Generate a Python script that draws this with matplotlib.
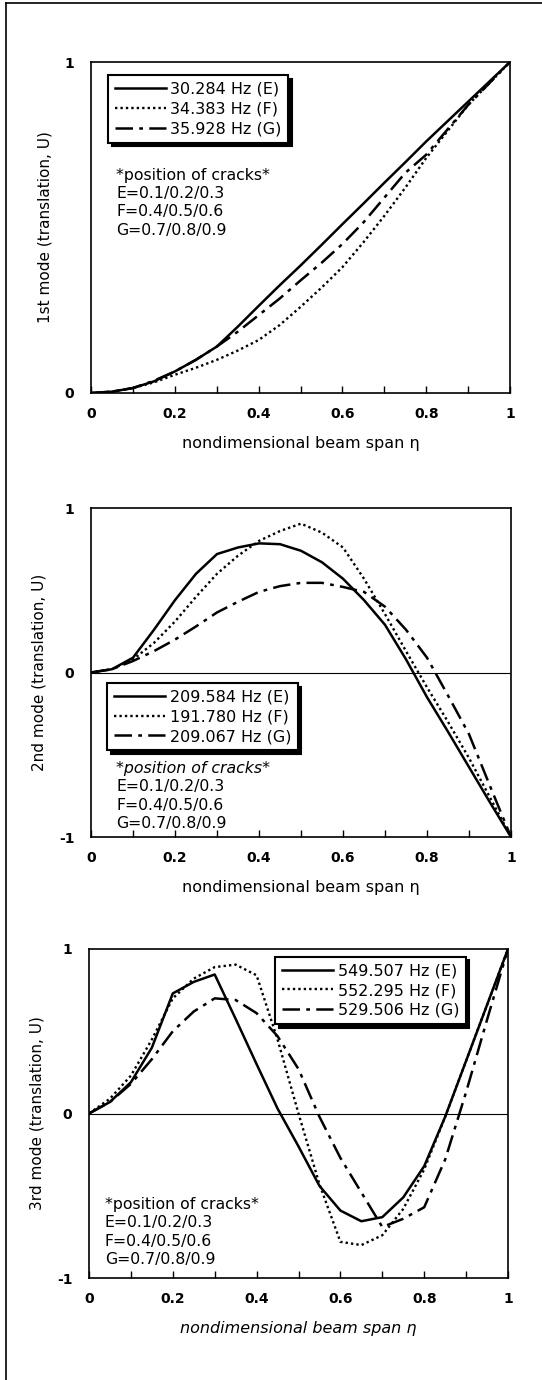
import matplotlib
matplotlib.use("Agg")
import matplotlib.pyplot as plt
from matplotlib.lines import Line2D

plt.rcParams['font.family'] = ['DejaVu Sans']

# nondimensional beam span
eta = [0.0, 0.05, 0.1, 0.15, 0.2, 0.25, 0.3, 0.35, 0.4, 0.45, 0.5,
       0.55, 0.6, 0.65, 0.7, 0.75, 0.8, 0.85, 0.9, 0.95, 1.0]

# 1st mode
m1_E = [0.0, 0.004, 0.015, 0.035, 0.065, 0.10, 0.14, 0.20, 0.263, 0.325, 0.385,
        0.447, 0.51, 0.572, 0.635, 0.697, 0.76, 0.82, 0.88, 0.94, 1.0]
m1_F = [0.0, 0.004, 0.015, 0.032, 0.055, 0.076, 0.10, 0.128, 0.16, 0.205, 0.26,
        0.318, 0.38, 0.455, 0.535, 0.62, 0.71, 0.79, 0.87, 0.935, 1.0]
m1_G = [0.0, 0.004, 0.015, 0.037, 0.065, 0.10, 0.14, 0.185, 0.235, 0.285, 0.34,
        0.393, 0.45, 0.515, 0.59, 0.665, 0.72, 0.795, 0.87, 0.935, 1.0]

# 2nd mode
m2_E = [0.0, 0.02, 0.09, 0.26, 0.44, 0.60, 0.72, 0.76, 0.785, 0.78, 0.74,
        0.67, 0.57, 0.44, 0.29, 0.08, -0.15, -0.36, -0.575, -0.79, -1.0]
m2_F = [0.0, 0.02, 0.08, 0.18, 0.31, 0.46, 0.60, 0.71, 0.80, 0.86, 0.905,
        0.85, 0.76, 0.57, 0.355, 0.13, -0.09, -0.30, -0.52, -0.76, -1.0]
m2_G = [0.0, 0.02, 0.07, 0.13, 0.20, 0.28, 0.365, 0.43, 0.49, 0.525, 0.545,
        0.545, 0.52, 0.49, 0.40, 0.26, 0.09, -0.14, -0.375, -0.69, -1.0]

# 3rd mode
m3_E = [0.0, 0.07, 0.19, 0.40, 0.73, 0.80, 0.845, 0.575, 0.30, 0.03, -0.20,
        -0.44, -0.59, -0.655, -0.63, -0.51, -0.32, -0.02, 0.32, 0.66, 1.0]
m3_F = [0.0, 0.09, 0.23, 0.45, 0.70, 0.82, 0.89, 0.905, 0.84, 0.45, 0.0,
        -0.43, -0.78, -0.80, -0.74, -0.58, -0.34, -0.02, 0.32, 0.66, 1.0]
m3_G = [0.0, 0.07, 0.18, 0.33, 0.50, 0.62, 0.70, 0.69, 0.61, 0.47, 0.27,
        -0.02, -0.27, -0.48, -0.69, -0.64, -0.57, -0.28, 0.13, 0.57, 1.0]

freqs = [["30.284 Hz (E)", "34.383 Hz (F)", "35.928 Hz (G)"],
         ["209.584 Hz (E)", "191.780 Hz (F)", "209.067 Hz (G)"],
         ["549.507 Hz (E)", "552.295 Hz (F)", "529.506 Hz (G)"]]
ylabels = ["1st mode (translation, U)", "2nd mode (translation, U)",
           "3rd mode (translation, U)"]
crack_lines = ["*position of cracks*", "E=0.1/0.2/0.3", "F=0.4/0.5/0.6", "G=0.7/0.8/0.9"]

styles = [dict(ls='-', lw=1.8),
          dict(ls=(0, (1, 1.3)), lw=1.7),
          dict(ls=(0, (7, 2.5, 1.5, 2.5)), lw=1.8)]

fig = plt.figure(figsize=(5.42, 13.8), dpi=100)

# page frame lines
fig.add_artist(Line2D([6/542, 6/542], [0, 1 - 3/1380], color='black', lw=1.2))
fig.add_artist(Line2D([6/542, 1], [1 - 3/1380, 1 - 3/1380], color='black', lw=1.2))

axes_pos = [[91/542, 1 - 393/1380, 419/542, 331/1380],
            [91/542, 1 - 837/1380, 420/542, 329/1380],
            [89/542, 1 - 1278/1380, 419/542, 329/1380]]
data = [(m1_E, m1_F, m1_G), (m2_E, m2_F, m2_G), (m3_E, m3_F, m3_G)]
ylims = [(0, 1), (-1, 1), (-1, 1)]
leg_anchor = [(0.041, 0.96), (0.039, 0.468), (0.445, 0.976)]
text_pos = [(0.06, [0.658, 0.603, 0.548, 0.492]),
            (0.06, [0.208, 0.152, 0.096, 0.040]),
            (0.038, [0.224, 0.168, 0.112, 0.056])]

for i in range(3):
    ax = fig.add_axes(axes_pos[i])
    lines = []
    for series, st in zip(data[i], styles):
        ln, = ax.plot(eta, series, color='black', **st)
        lines.append(ln)
    if ylims[i][0] < 0:
        ax.axhline(0, color='black', lw=0.8)
    ax.set_xlim(0, 1)
    ax.set_ylim(*ylims[i])
    ax.set_xticks([0, 0.2, 0.4, 0.6, 0.8, 1.0])
    ax.set_xticklabels(['0', '0.2', '0.4', '0.6', '0.8', '1'])
    ax.set_xticks([0.1, 0.3, 0.5, 0.7, 0.9], minor=True)
    if i == 0:
        ax.set_yticks([0, 1])
        ax.set_yticklabels(['0', '1'])
    else:
        ax.set_yticks([-1, 0, 1])
        ax.set_yticklabels(['-1', '0', '1'])
    ax.tick_params(axis='x', which='both', direction='in', length=5, width=1, pad=10,
                   labelsize=10)
    ax.tick_params(axis='y', length=0, pad=12, labelsize=10)
    for lab in ax.get_xticklabels() + ax.get_yticklabels():
        lab.set_fontweight('bold')
    for sp in ax.spines.values():
        sp.set_linewidth(1.2)
    ax.set_ylabel(ylabels[i], fontsize=11, labelpad=9)
    ax.set_xlabel("nondimensional beam span \u03b7", fontsize=11.5, labelpad=11,
                  style='italic' if i == 2 else 'normal')

    leg = ax.legend(lines, freqs[i], loc='upper left', bbox_to_anchor=leg_anchor[i],
                    borderaxespad=0, fontsize=11.5, handlelength=3.2, handletextpad=0.3,
                    labelspacing=0.3, borderpad=0.4, fancybox=False,
                    shadow={'color': 'black', 'alpha': 1.0, 'ox': 2.5, 'oy': -2.5},
                    framealpha=1, edgecolor='black')
    leg.get_frame().set_linewidth(1.5)

    tx, tys = text_pos[i]
    for j, (t, ty) in enumerate(zip(crack_lines, tys)):
        ax.text(tx, ty, t, transform=ax.transAxes, fontsize=11.3, va='center', ha='left',
                style='italic' if (j == 0 and i == 1) else 'normal')

fig.savefig("out.png", dpi=100)
